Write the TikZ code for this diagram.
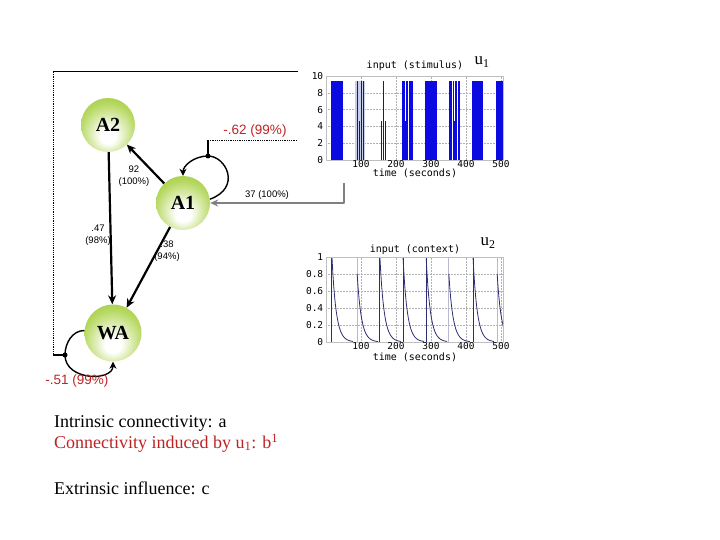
\documentclass[tikz,border=0pt]{standalone}
\usepackage{fontspec}
\setmainfont{Liberation Serif}
\setsansfont{Liberation Sans}
\setmonofont{DejaVu Sans Mono}
\usetikzlibrary{arrows.meta}
\definecolor{balledge}{RGB}{138,188,38}
\definecolor{ballmid}{RGB}{182,216,96}
\definecolor{modred}{RGB}{190,35,35}
\definecolor{stimblue}{RGB}{10,10,225}
\definecolor{stimlight}{RGB}{200,205,235}
\definecolor{ctxnavy}{RGB}{45,45,115}
\definecolor{ctxlight}{RGB}{185,185,205}
\pgfdeclareradialshading{greenball}{\pgfpoint{0bp}{-12bp}}{color(0bp)=(white); color(7bp)=(white); color(26bp)=(ballmid); color(44bp)=(balledge); color(50bp)=(balledge)}

\begin{document}
\begin{tikzpicture}[x=1pt, y=1pt, >={Stealth[length=9pt,width=8pt]}, line join=round,
    area/.style={circle, minimum size=54pt, inner sep=0pt, shade, shading=greenball, font=\bfseries\fontsize{20}{20}\selectfont},
    conn/.style={->, line width=2.2pt},
    selfloop/.style={-{Stealth[length=7pt,width=7pt]}, line width=1.4pt},
    coef/.style={font=\sffamily\fontsize{9.5}{12}\selectfont, align=center, inner sep=0pt},
    modcoef/.style={font=\sffamily\fontsize{13.5}{14}\selectfont, text=modred, inner sep=0pt},
    tick/.style={font=\ttfamily\fontsize{9.5}{9.5}\selectfont, inner sep=0.5pt},
    ptitle/.style={font=\ttfamily\fontsize{10}{10}\selectfont, inner sep=0pt},
    plotgrid/.style={gray!60, densely dotted, line width=0.5pt},
    legend/.style={anchor=west, inner sep=0pt, font=\fontsize{18}{18}\selectfont}]
\useasboundingbox (0,0) rectangle (720,-540);

% regions
\node[area] (A2) at (108,-125) {A2};
\node[area] (A1) at (183,-203) {A1};
\node[area, minimum size=57pt] (WA) at (113,-333) {WA};

% intrinsic connections
\draw[conn] (A1) -- (A2);
\draw[conn] (A2) -- (WA);
\draw[conn] (A1) -- (WA);
\node[coef] (c21) at (134,-176) {92\\(100\%)};
\node[coef] (c2w) at (98,-235) {.47\\(98\%)};
\node[coef] (c1w) at (167,-251) {.38\\(94\%)};

% self connections, modulated by u1
\coordinate (A1mod) at (208,-156);
\coordinate (WAmod) at (65,-355);
\draw[selfloop] (A1.8) .. controls +(20:34) and +(0:18) .. (A1mod) .. controls +(180:14) and +(90:10) .. (A1.north);
\draw[selfloop] (WA.175) .. controls +(180:12) and +(90:12) .. (WAmod) .. controls +(-90:26) and +(-90:20) .. (WA.south);

\coordinate (u1modA) at (297,-140);
\coordinate (A1corner) at (208,-140);
\draw[densely dotted, line width=0.8pt] (u1modA) -- (A1corner);
\draw[line width=1.2pt] (A1corner) -- (A1mod);
\fill (A1mod) circle (2.5);
\node[modcoef] (m1) at (255,-131) {-.62 (99\%)};

\coordinate (u1in) at (298,-72);
\coordinate (topleft) at (53,-72);
\coordinate (botleft) at (53,-355);
\draw[line width=1pt] (u1in) -- (topleft);
\draw[densely dotted, line width=0.8pt] (topleft) -- (botleft);
\draw[line width=1.2pt] (botleft) -- (WAmod);
\fill (WAmod) circle (2.5);
\node[modcoef] (mw) at (77,-381) {-.51 (99\%)};

% extrinsic input
\coordinate (u1drive) at (344,-183);
\draw[-{Stealth[length=8pt,width=7pt]}, line width=2pt, gray] (u1drive) |- (A1);
\node[coef] (cx) at (267,-195) {37 (100\%)};

% u1 plot
\begin{scope}[shift={(326,-160)}, x=0.35pt, y=8.4pt]
  \foreach \t in {100,200,...,500} \draw[plotgrid] (\t,0) -- (\t,10);
  \foreach \v in {2,4,...,8} \draw[plotgrid] (0,\v) -- (505,\v);
  \fill[stimlight] (83,0) rectangle (111,9.4);
  \foreach \a/\b in {14/49, 217/249, 283/317, 351/383, 417/449, 486/505}
    \fill[stimblue] (\a,0) rectangle (\b,9.4);
  \foreach \t in {90,102,107,164} \draw[stimblue, line width=1.2pt] (\t,0) -- (\t,9.4);
  \foreach \t in {95,159,170} \draw[stimblue, line width=1.2pt] (\t,0) -- (\t,4.7);
  \foreach \t in {234,360,374} \draw[white, line width=0.8pt] (\t,0) -- (\t,9.4);
  \foreach \t in {228,366} \draw[white, line width=0.8pt] (\t,4.7) -- (\t,9.4);
  \draw[gray!50, line width=0.4pt] (0,0) rectangle (505,10);
  \foreach \v in {0,2,...,10} \node[tick, anchor=east] at (-6,\v) {\v};
  \foreach \t in {100,200,...,500} \node[tick, anchor=north] at (\t,0) {\t};
  \node[ptitle] at (254,11.2) {input (stimulus)};
  \node[ptitle] at (254,-1.6) {time (seconds)};
\end{scope}
\node[font=\fontsize{17}{17}\selectfont] (u1lbl) at (482,-62) {u\textsubscript{1}};

% u2 plot
\begin{scope}[shift={(326,-342)}, x=0.35pt, y=85pt]
  \foreach \t in {100,200,...,500} \draw[plotgrid] (\t,0) -- (\t,1);
  \foreach \v in {0.2,0.4,0.6,0.8} \draw[plotgrid] (0,\v) -- (505,\v);
  \begin{scope}
    \clip (0,0) rectangle (505,1);
    \foreach \s/\p/\c in {17/1/ctxnavy, 89/0.8/ctxlight, 154/1/ctxnavy, 220/1/ctxnavy, 286/1/ctxnavy, 351/0.8/ctxlight, 420/1/ctxnavy, 489/0.8/ctxlight} {
      \draw[\c, line width=1pt] (\s,0) -- (\s,1);
      \draw[ctxnavy, line width=0.8pt] plot[domain=0:60, samples=25] ({\s+\x},{\p*exp(-\x/12)});
    }
  \end{scope}
  \draw[gray!50, line width=0.4pt] (0,0) rectangle (505,1);
  \foreach \v in {0,0.2,0.4,0.6,0.8,1} \node[tick, anchor=east] at (-6,\v) {\v};
  \foreach \t in {100,200,...,500} \node[tick, anchor=north] at (\t,0) {\t};
  \node[ptitle] at (254,1.09) {input (context)};
  \node[ptitle] at (254,-0.18) {time (seconds)};
\end{scope}
\node[font=\fontsize{17}{17}\selectfont] (u2lbl) at (488,-243) {u\textsubscript{2}};

% legend
\node[legend] (l1) at (54,-423) {Intrinsic connectivity: a};
\node[legend, text=modred] (l2) at (54,-443) {Connectivity induced by u\textsubscript{1}: b\textsuperscript{1}};
\node[legend] (l3) at (54,-488) {Extrinsic influence: c};
\end{tikzpicture}
\end{document}
